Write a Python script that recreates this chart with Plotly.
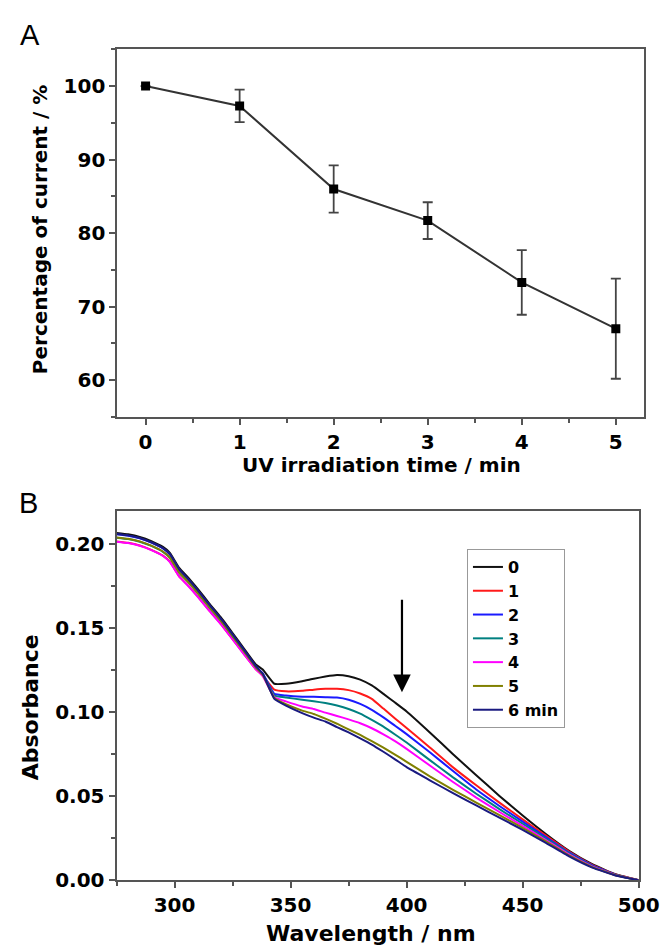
import plotly.graph_objs as go

# ---- panel A data ----
uv_time = [0, 1, 2, 3, 4, 5]
current_pct = [100.0, 97.3, 86.0, 81.7, 73.3, 67.0]
current_err = [0.0, 2.2, 3.2, 2.5, 4.4, 6.8]

# ---- panel B data ----
wavelength = [275, 280, 285, 290, 295, 298, 302, 306, 310, 315, 320, 325, 330, 335, 338,
              343, 348, 355, 360, 365, 370, 375, 380, 385, 390, 395, 400, 410, 420, 430,
              440, 450, 460, 470, 480, 490, 500]

abs_0 = [0.2068, 0.2060, 0.2045, 0.2020, 0.1985, 0.1950, 0.1860, 0.1800, 0.1735, 0.1648,
         0.1565, 0.1472, 0.1378, 0.1285, 0.1255,
         0.1170, 0.1170, 0.1185, 0.1200, 0.1213, 0.1222, 0.1215, 0.1195, 0.1160, 0.1110,
         0.1058, 0.1005, 0.0880, 0.0750, 0.0625, 0.0502, 0.0385, 0.0275, 0.0175, 0.0095,
         0.0035, 0.0]
abs_1 = [0.2018, 0.2010, 0.1994, 0.1968, 0.1933, 0.1897, 0.1810, 0.1753, 0.1690, 0.1606,
         0.1526, 0.1436, 0.1346, 0.1258, 0.1218,
         0.1135, 0.1125, 0.1128, 0.1135, 0.1140, 0.1140, 0.1132, 0.1112, 0.1080, 0.1022,
         0.0963, 0.0906, 0.0790, 0.0672, 0.0565, 0.0462, 0.0362, 0.0265, 0.0170, 0.0091,
         0.0034, 0.0]
abs_2 = [0.2060, 0.2052, 0.2036, 0.2011, 0.1976, 0.1940, 0.1850, 0.1790, 0.1725, 0.1638,
         0.1555, 0.1462, 0.1368, 0.1273, 0.1232,
         0.1110, 0.1100, 0.1093, 0.1092, 0.1090, 0.1088, 0.1075, 0.1050, 0.1015, 0.0970,
         0.0920, 0.0870, 0.0762, 0.0650, 0.0540, 0.0442, 0.0349, 0.0257, 0.0165, 0.0088,
         0.0033, 0.0]
abs_3 = [0.2040, 0.2032, 0.2016, 0.1991, 0.1956, 0.1920, 0.1832, 0.1774, 0.1710, 0.1625,
         0.1543, 0.1451, 0.1359, 0.1266, 0.1226,
         0.1100, 0.1088, 0.1075, 0.1066, 0.1055, 0.1040, 0.1020, 0.0992, 0.0955, 0.0915,
         0.0868, 0.0820, 0.0715, 0.0612, 0.0515, 0.0423, 0.0336, 0.0248, 0.0159, 0.0084,
         0.0031, 0.0]
abs_4 = [0.2016, 0.2008, 0.1992, 0.1966, 0.1931, 0.1895, 0.1808, 0.1751, 0.1688, 0.1604,
         0.1524, 0.1434, 0.1344, 0.1256, 0.1216,
         0.1090, 0.1065, 0.1035, 0.1020, 0.0998, 0.0978, 0.0958, 0.0935, 0.0905, 0.0868,
         0.0828, 0.0782, 0.0683, 0.0585, 0.0492, 0.0406, 0.0323, 0.0239, 0.0153, 0.0081,
         0.0030, 0.0]
abs_5 = [0.2042, 0.2034, 0.2018, 0.1993, 0.1958, 0.1922, 0.1834, 0.1776, 0.1712, 0.1627,
         0.1545, 0.1453, 0.1361, 0.1268, 0.1224,
         0.1085, 0.1048, 0.1010, 0.0990, 0.0962, 0.0932, 0.0898, 0.0865, 0.0828, 0.0790,
         0.0748, 0.0705, 0.0618, 0.0538, 0.0462, 0.0387, 0.0312, 0.0231, 0.0147, 0.0078,
         0.0029, 0.0]
abs_6 = [0.2062, 0.2054, 0.2038, 0.2013, 0.1978, 0.1942, 0.1852, 0.1792, 0.1727, 0.1640,
         0.1557, 0.1464, 0.1370, 0.1275, 0.1230,
         0.1080, 0.1040, 0.0995, 0.0968, 0.0945, 0.0912, 0.0880, 0.0845, 0.0808, 0.0765,
         0.0720, 0.0673, 0.0595, 0.0518, 0.0445, 0.0372, 0.0300, 0.0222, 0.0142, 0.0075,
         0.0028, 0.0]

spectra = [abs_0, abs_1, abs_2, abs_3, abs_4, abs_5, abs_6]
spectra_names = ["0", "1", "2", "3", "4", "5", "6 min"]
spectra_colors = ["#111111", "#ff1a1a", "#1a1aff", "#008080", "#ff00ff", "#808000", "#1a1a80"]

FONT = "DejaVu Sans, Liberation Sans, Arial, sans-serif"
tick_font = dict(family=FONT, size=20, color="black", weight="bold")
title_a_font = dict(family=FONT, size=20, color="black", weight="bold")
title_b_font = dict(family=FONT, size=22, color="black", weight="bold")
frame = dict(
    showline=True, linecolor="#555555", linewidth=2, mirror=True,
    ticks="outside", ticklen=6, tickwidth=1.5, tickcolor="#555555",
    showgrid=False, zeroline=False, tickfont=tick_font,
)
minor_ticks = dict(ticks="outside", ticklen=4, tickcolor="#555555")

fig = go.Figure()

fig.add_scatter(
    x=uv_time, y=current_pct,
    error_y=dict(type="data", array=current_err, color="#444444", thickness=1.8, width=5),
    mode="lines+markers",
    line=dict(color="#333333", width=2),
    marker=dict(symbol="square", size=9, color="black"),
    showlegend=False, xaxis="x", yaxis="y",
)

for vals, name, col in zip(spectra, spectra_names, spectra_colors):
    fig.add_scatter(
        x=wavelength, y=vals, name=name, mode="lines",
        line=dict(color=col, width=2, shape="spline", smoothing=0.35),
        xaxis="x2", yaxis="y2",
    )

fig.update_layout(
    width=672, height=950,
    margin=dict(l=0, r=0, t=0, b=0),
    paper_bgcolor="white", plot_bgcolor="white",
    xaxis=dict(frame, domain=[0.168, 0.977], anchor="y", range=[-0.3, 5.3],
               tickmode="linear", tick0=0, dtick=1, minor=dict(minor_ticks, dtick=0.5)),
    yaxis=dict(frame, domain=[0.564, 0.956], anchor="x", range=[55, 105],
               tickmode="linear", tick0=60, dtick=10, minor=dict(minor_ticks, dtick=5)),
    xaxis2=dict(frame, domain=[0.1667, 0.9688], anchor="y2", range=[275, 500],
                tickmode="linear", tick0=300, dtick=50, minor=dict(minor_ticks, dtick=25)),
    yaxis2=dict(frame, domain=[0.0702, 0.4639], anchor="x2", range=[0, 0.22],
                tickmode="linear", tick0=0, dtick=0.05, tickformat=".2f",
                minor=dict(minor_ticks, dtick=0.025)),
    legend=dict(
        x=0.705, y=0.4232, xanchor="left", yanchor="top",
        bordercolor="#999999", borderwidth=1, bgcolor="white",
        font=dict(family=FONT, size=16, color="black", weight="bold"),
    ),
    showlegend=True,
)

# axis titles and panel letters
notes = [
    dict(text="UV irradiation time / min", x=0.573, y=1 - 463 / 950, font=title_a_font),
    dict(text="Percentage of current / %", x=33 / 672, y=1 - 224 / 950, font=title_a_font,
         textangle=-90),
    dict(text="Wavelength / nm", x=0.558, y=1 - 937 / 950, font=title_b_font),
    dict(text="Absorbance", x=23 / 672, y=1 - 708 / 950, font=title_b_font, textangle=-90),
    dict(text="A", x=23 / 672, y=1 - 27 / 950,
         font=dict(family="Liberation Sans, Arial", size=29, color="black")),
    dict(text="B", x=21 / 672, y=1 - 501 / 950,
         font=dict(family="Liberation Sans, Arial", size=29, color="black")),
]
for n in notes:
    fig.add_annotation(xref="paper", yref="paper", showarrow=False,
                       xanchor="center", yanchor="middle", **n)

fig.add_annotation(
    x=398, y=0.112, ax=398, ay=0.168, xref="x2", yref="y2", axref="x2", ayref="y2",
    showarrow=True, arrowhead=2, arrowsize=1.6, arrowwidth=2.2, arrowcolor="black", text="",
)

fig.write_html("out.html")
